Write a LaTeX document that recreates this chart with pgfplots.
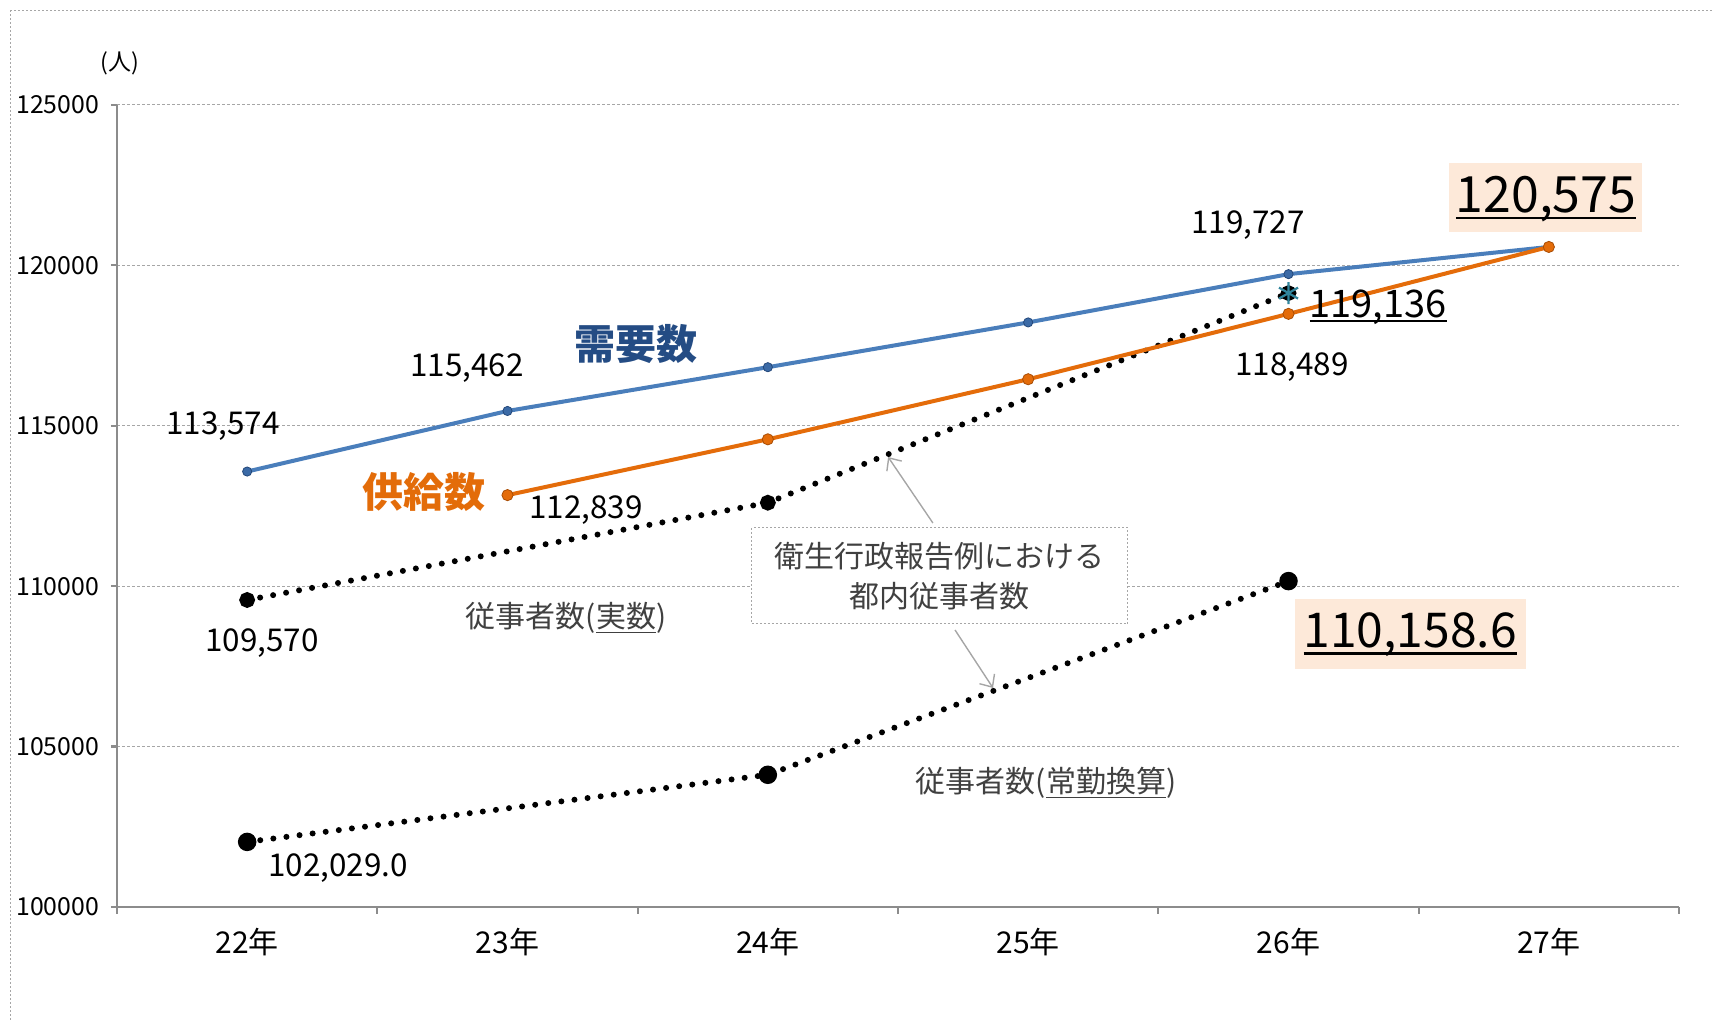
\documentclass[border=0pt]{standalone}
\usepackage{pgfplots}
\pgfplotsset{compat=1.18}
\usepackage{fontspec}
\setmainfont{Noto Sans CJK JP}
\usetikzlibrary{arrows.meta}
\definecolor{blueL}{HTML}{4A7EBB}
\definecolor{blueM}{HTML}{3B6AA6}
\definecolor{blueD}{HTML}{24487A}
\definecolor{orangeL}{HTML}{E46C0A}
\definecolor{orangeD}{HTML}{A84D05}
\definecolor{needblue}{HTML}{244C84}
\definecolor{supor}{HTML}{E36C09}
\definecolor{peach}{HTML}{FDE9D9}
\definecolor{tealc}{HTML}{31859C}
\definecolor{txtgray}{HTML}{404040}
\definecolor{axgray}{HTML}{8C8C8C}
\definecolor{gridgray}{HTML}{A6A6A6}
\definecolor{arrgray}{HTML}{A6A6A6}
\newcommand\fs[1]{\fontsize{#1}{#1}\selectfont}
\newcommand\ul[3]{\setbox0\hbox{#3}\dp0=0pt\vtop{\box0\kern#1\hrule height#2}}
\begin{document}
\begin{tikzpicture}
\path[use as bounding box] (-58.5pt,-56.5pt) rectangle (797.5pt,453.5pt);
\draw[gridgray, line width=0.5pt, dash pattern=on 1pt off 1pt] (-53pt,-56.5pt) -- (-53pt,448pt) -- (797.5pt,448pt);
\begin{axis}[
  at={(0pt,0pt)}, anchor=south west,
  scale only axis, width=781pt, height=401pt,
  clip=false,
  xmin=-0.5, xmax=5.5, ymin=100000, ymax=125000,
  axis x line*=bottom, axis y line*=left,
  axis line style={axgray, line width=1.1pt},
  xtick={0,1,2,3,4,5},
  xticklabels={22年,23年,24年,25年,26年,27年},
  minor xtick={-0.5,0.5,1.5,2.5,3.5,4.5,5.5},
  ytick={100000,105000,110000,115000,120000,125000},
  scaled y ticks=false,
  yticklabel={\pgfmathprintnumber[fixed,precision=0,1000 sep={}]{\tick}},
  tick align=outside,
  major tick length=3pt, minor tick length=3.5pt,
  major x tick style={draw=none},
  minor x tick style={axgray, line width=1.1pt},
  major y tick style={axgray, line width=1.1pt},
  ymajorgrids,
  grid style={gridgray, line width=0.5pt, dash pattern=on 1.5pt off 1pt},
  /pgf/number format/assume math mode=true,
  xticklabel style={font=\fs{15}, yshift=-4pt},
  yticklabel style={font=\fs{12.4}, xshift=-2.5pt},
]
% dotted series
\addplot[black, line width=3pt, line cap=round, dash pattern=on 0pt off 6.6pt,
  mark=*, mark size=2.4pt, mark options={solid, fill=black}]
  coordinates {(0,109570) (2,112602) (4,119136)};
\addplot[black, line width=3pt, line cap=round, dash pattern=on 0pt off 6.6pt,
  mark=*, mark size=3.1pt, mark options={solid, fill=black}]
  coordinates {(0,102029.0) (2,104121) (4,110158.6)};
% demand
\addplot[blueL, line width=2pt, mark=*, mark size=2.3pt,
  mark options={fill=blueM, draw=blueD, line width=0.4pt}]
  coordinates {(0,113574) (1,115462) (2,116826) (3,118222) (4,119727) (5,120575)};
% supply
\addplot[orangeL, line width=2pt, mark=*, mark size=2.8pt,
  mark options={fill=orangeL, draw=orangeD, line width=0.4pt}]
  coordinates {(1,112839) (2,114578) (3,116451) (4,118489) (5,120575)};
\addplot[only marks, mark=asterisk, mark size=5.5pt, tealc, line width=1.1pt]
  coordinates {(4,119136)};

% unit
\node[font=\fs{11.5}] at (axis cs:-0.488,126309) {(人)};
% data labels
\node[font=\fs{15.7}] at (axis cs:-0.093,114994) {113,574};
\node[font=\fs{15.7}] at (axis cs:0.844,116802) {115,462};
\node[font=\fs{15.7}] at (axis cs:1.302,112375) {112,839};
\node[font=\fs{15.7}] at (axis cs:0.057,108229) {109,570};
\node[font=\fs{15.7}] at (axis cs:0.349,101216) {102,029.0};
\node[font=\fs{15.7}] at (axis cs:3.845,121259) {119,727};
\node[font=\fs{15.7}] at (axis cs:4.014,116833) {118,489};
\node[font=\fs{19}] at (axis cs:4.344,118734) {\ul{1.5pt}{1.1pt}{119,136}};
\node[fill=peach, minimum width=96.5pt, minimum height=34.5pt, inner sep=0pt, font=\fs{25}]
  at (axis cs:4.989,122101) {\ul{2pt}{1.3pt}{120,575}};
\node[fill=peach, minimum width=115.5pt, minimum height=35pt, inner sep=0pt, font=\fs{24}]
  at (axis cs:4.467,108510) {\ul{2.3pt}{1.3pt}{110,158.6}};
% series names
\node[font=\fs{20.5}\bfseries, text=needblue] at (axis cs:1.494,117550) {需要数};
\node[font=\fs{20.5}\bfseries, text=supor] at (axis cs:0.679,112936) {供給数};
\node[font=\fs{15}, text=txtgray] at (axis cs:1.225,109009) {従事者数(\ul{2pt}{0.6pt}{実数})};
\node[font=\fs{15}, text=txtgray] at (axis cs:3.069,103865) {従事者数(\ul{2pt}{0.6pt}{常勤換算})};
% callout box
\node[draw=gridgray, line width=0.5pt, dash pattern=on 1pt off 1pt, fill=white,
  minimum width=188pt, minimum height=48pt, align=center,
  font=\fontsize{15}{20}\selectfont, text=txtgray]
  at (axis cs:2.661,110318) {衛生行政報告例における\\都内従事者数};
\draw[arrgray, line width=0.7pt, -{Straight Barb[length=5pt,width=9pt]}]
  (axis cs:2.634,111970) -- (axis cs:2.462,114027);
\draw[arrgray, line width=0.7pt, -{Straight Barb[length=5pt,width=9pt]}]
  (axis cs:2.719,108635) -- (axis cs:2.865,106826);
\end{axis}
\end{tikzpicture}
\end{document}
